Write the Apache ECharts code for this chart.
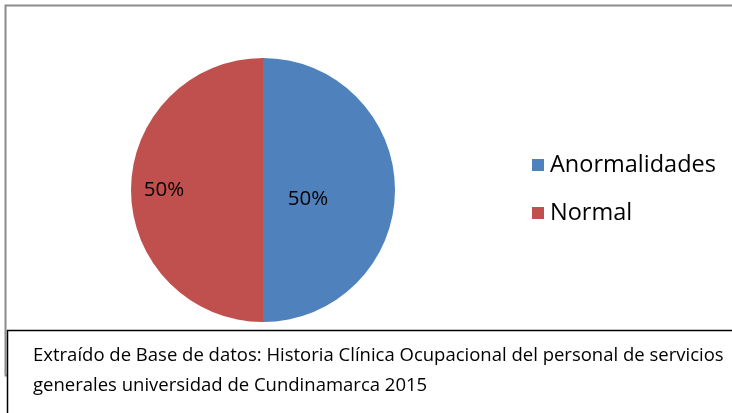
<!DOCTYPE html>
<html>
<head>
<meta charset="utf-8">
<script src="https://cdn.jsdelivr.net/npm/echarts@6/dist/echarts.min.js"></script>
<style>
  html, body { margin: 0; padding: 0; background: #fff; }
  #chart { width: 732px; height: 413px; }
</style>
</head>
<body>
<div id="chart"></div>
<script>
// datos del grafico
var categorias = ['Anormalidades', 'Normal'];
var valores = [50, 50];
var colores = ['#4F81BD', '#C0504D'];
var nota = [
  'Extraído de Base de datos: Historia Clínica Ocupacional del personal de servicios',
  'generales universidad de Cundinamarca 2015'
];

var fuente = 'Open Sans, Liberation Sans, sans-serif';
// desplazamiento de las etiquetas dentro de cada sector
var desplaz = [[-24, 9], [-30, 0]];

var datos = categorias.map(function (c, i) {
  return {
    name: c,
    value: valores[i],
    itemStyle: { color: colores[i] },
    label: { offset: desplaz[i] }
  };
});

var option = {
  animation: false,
  legend: {
    orient: 'vertical',
    left: 527,
    top: 148,
    itemWidth: 12,
    itemHeight: 12,
    itemGap: 24,
    icon: 'rect',
    textStyle: { fontFamily: fuente, fontSize: 23.5, color: '#000', padding: [0, 0, 0, 1] },
    data: categorias
  },
  series: [
    {
      type: 'pie',
      center: [263, 190],
      radius: 132,
      startAngle: 90,
      clockwise: true,
      label: {
        show: true,
        position: 'inside',
        formatter: '{d}%',
        fontFamily: fuente,
        fontSize: 20.5,
        color: '#000'
      },
      labelLine: { show: false },
      emphasis: { disabled: true },
      data: datos
    }
  ],
  graphic: [
    {
      type: 'rect',
      shape: { x: 5.5, y: 5.5, width: 740, height: 370 },
      style: { fill: 'none', stroke: '#8c8c8c', lineWidth: 2 },
      z: 1
    },
    {
      type: 'rect',
      shape: { x: 7.5, y: 330.5, width: 740, height: 100 },
      style: { fill: '#fff', stroke: '#000', lineWidth: 1.5 },
      z: 2
    },
    {
      type: 'text',
      left: 33,
      top: 341,
      style: {
        text: nota.join('\n'),
        font: '18.5px ' + fuente,
        lineHeight: 30,
        fill: '#000'
      },
      z: 3
    }
  ]
};

echarts.init(document.getElementById('chart')).setOption(option);
</script>
</body>
</html>
